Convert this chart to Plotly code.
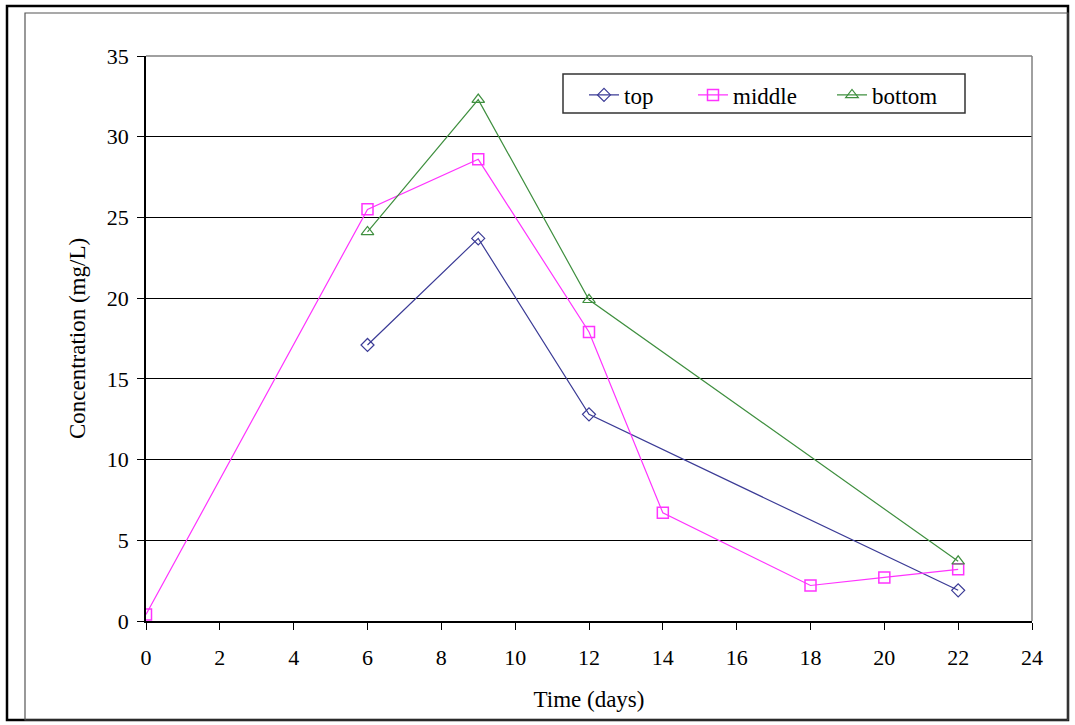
import plotly.graph_objects as go

x_top = [6, 9, 12, 22]
y_top = [17.1, 23.7, 12.8, 1.9]
x_mid = [0, 6, 9, 12, 14, 18, 20, 22]
y_mid = [0.4, 25.5, 28.6, 17.9, 6.7, 2.2, 2.7, 3.2]
x_bot = [6, 9, 12, 22]
y_bot = [24.1, 32.3, 19.9, 3.7]

x_ticks = list(range(0, 25, 2))
y_ticks = list(range(0, 36, 5))

FONT = "Liberation Serif"

fig = go.Figure()
fig.add_trace(go.Scatter(x=x_top, y=y_top, name="top", mode="lines+markers", legend="legend",
                         line=dict(color="#3b3b96", width=1.2),
                         marker=dict(symbol="diamond-open", size=10, color="#3b3b96", line=dict(width=1.2))))
fig.add_trace(go.Scatter(x=x_mid, y=y_mid, name="middle", mode="lines+markers", legend="legend2",
                         line=dict(color="#ff33ff", width=1.2),
                         marker=dict(symbol="square-open", size=11, color="#ff33ff", line=dict(width=1.5))))
fig.add_trace(go.Scatter(x=x_bot, y=y_bot, name="bottom", mode="lines+markers", legend="legend3",
                         line=dict(color="#3f8f3f", width=1.2),
                         marker=dict(symbol="triangle-up-open", size=11, color="#3f8f3f", line=dict(width=1.2))))

L, R, T, B = 146, 1032, 56, 621
W, H = R - L, B - T

def px(x):
    return (x - L) / W

def py(y):
    return (B - y) / H

shapes = [
    dict(type="rect", xref="paper", yref="paper", x0=px(7), x1=px(1068), y0=py(720), y1=py(6),
         line=dict(color="black", width=2.5), layer="above"),
    dict(type="rect", xref="paper", yref="paper", x0=px(25), x1=px(1068), y0=py(720), y1=py(13),
         line=dict(color="#555555", width=1.2), layer="above"),
    dict(type="line", xref="paper", yref="paper", x0=0, x1=1, y0=1, y1=1,
         line=dict(color="#808080", width=1.5), layer="above"),
    dict(type="line", xref="paper", yref="paper", x0=1, x1=1, y0=0, y1=1,
         line=dict(color="#808080", width=1.5), layer="above"),
    dict(type="rect", xref="paper", yref="paper", x0=px(563), x1=px(965), y0=py(113), y1=py(74),
         line=dict(color="#333333", width=1.5), fillcolor="white", layer="below"),
]

def leg(xpix):
    return dict(orientation="h", yanchor="middle", xanchor="left", y=py(95), x=px(xpix),
                bgcolor="rgba(0,0,0,0)", borderwidth=0,
                font=dict(family=FONT, size=23, color="black"))

fig.update_layout(
    width=1075, height=725,
    margin=dict(l=L, r=1075 - R, t=T, b=725 - B),
    paper_bgcolor="white", plot_bgcolor="white",
    font=dict(family=FONT, size=22, color="black"),
    shapes=shapes,
    showlegend=True,
    legend=leg(584),
    legend2=leg(693),
    legend3=leg(832),
    xaxis=dict(range=[0, 24], tickvals=x_ticks, ticks="outside", ticklen=7, tickcolor="black",
               showline=True, linecolor="black", linewidth=1.5, showgrid=False, zeroline=False,
               ticklabelstandoff=9,
               title=dict(text="Time (days)", standoff=22, font=dict(family=FONT, size=23)),
               tickfont=dict(family=FONT, size=22)),
    yaxis=dict(range=[0, 35], tickvals=y_ticks, ticks="outside", ticklen=7, tickcolor="black",
               showline=True, linecolor="black", linewidth=1.5, showgrid=True, gridcolor="black",
               gridwidth=1.2, zeroline=False, ticklabelstandoff=4,
               title=dict(text="Concentration (mg/L)", standoff=15, font=dict(family=FONT, size=23)),
               tickfont=dict(family=FONT, size=22)),
)

fig.write_html("out.html", config={"displayModeBar": False},
               post_script="document.body.style.margin='0px';")
